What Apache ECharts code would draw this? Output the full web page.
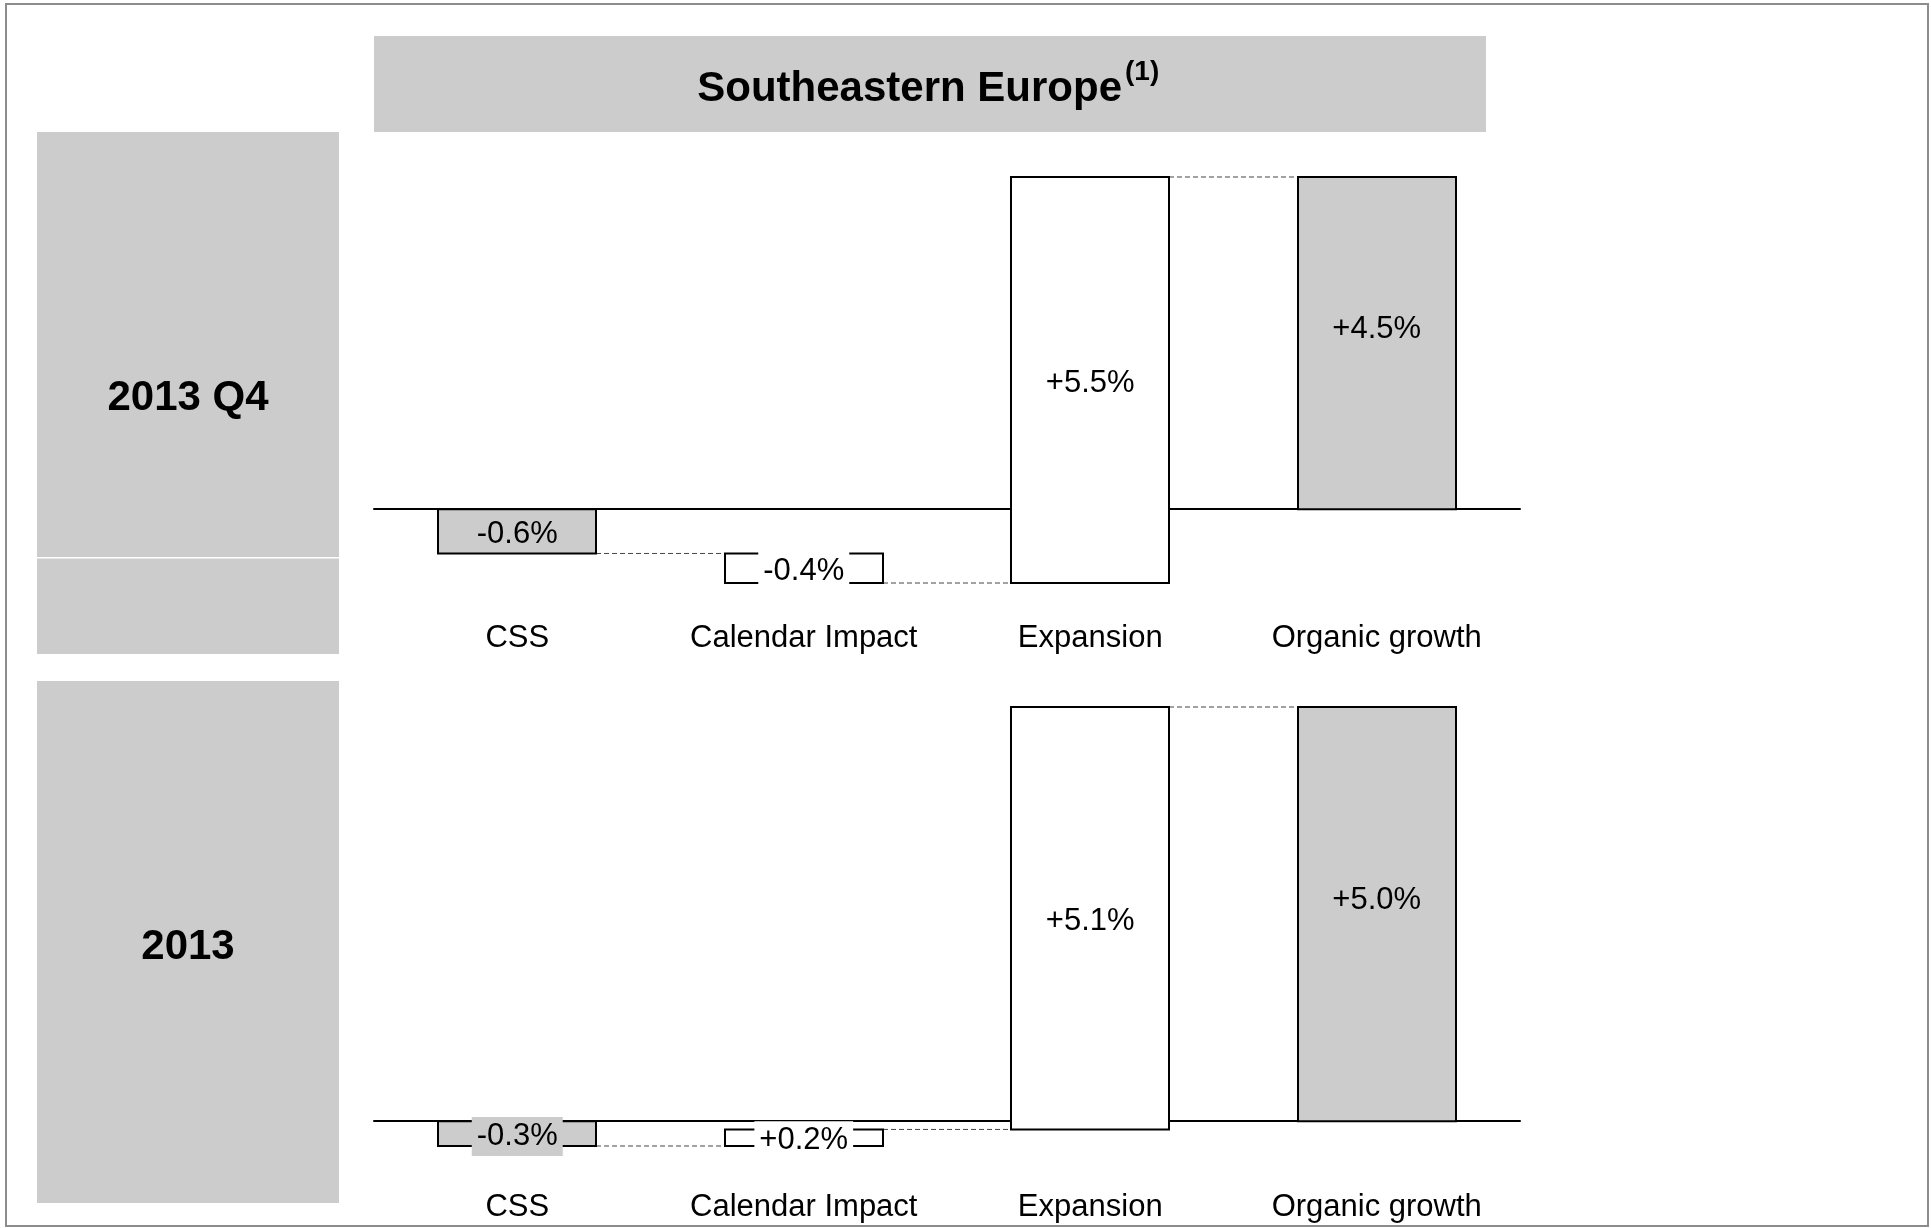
<!DOCTYPE html>
<html>
<head>
<meta charset="utf-8">
<script src="https://cdn.jsdelivr.net/npm/echarts@6/dist/echarts.min.js"></script>
<style>
  html, body { margin: 0; padding: 0; background: #ffffff; }
  #chart { width: 1931px; height: 1228px; }
</style>
</head>
<body>
<div id="chart"></div>
<script>
// Organic growth bridge, Southeastern Europe
const categories = ['CSS', 'Calendar Impact', 'Expansion', 'Organic growth'];
const q4Changes = [-0.6, -0.4, 5.5];   // 2013 Q4: CSS, calendar, expansion
const q4Organic = 4.5;
const fyChanges = [-0.3, 0.2, 5.1];    // full year 2013
const fyOrganic = 5.0;
const periodLabels = ['2013 Q4', '2013'];
const titleText = 'Southeastern Europe';
const titleNote = '(1)';

const FONT = '"Liberation Sans", Arial, Helvetica, sans-serif';
const GREY = '#cccccc';
const barFill = [GREY, '#ffffff', '#ffffff', GREY];
const labelBg = [GREY, '#ffffff', 'transparent', 'transparent'];
const labelShift = [3, 3, 3, -14];

// Each row: [category index, start level, end level, step]
function waterfall(changes, total) {
  const rows = [];
  let level = 0;
  changes.forEach(function (d, i) {
    rows.push([i, level, +(level + d).toFixed(2), d]);
    level = +(level + d).toFixed(2);
  });
  rows.push([changes.length, 0, total, total]);
  return rows;
}

function extent(rows) {
  let lo = 0, hi = 0;
  rows.forEach(function (r) { lo = Math.min(lo, r[1], r[2]); hi = Math.max(hi, r[1], r[2]); });
  return [lo, hi];
}

function fmt(v) { return (v > 0 ? '+' : '') + v.toFixed(1) + '%'; }

function renderStep(params, api) {
  const i = api.value(0), from = api.value(1), to = api.value(2), delta = api.value(3);
  const a = api.coord([i, from]);
  const b = api.coord([i, to]);
  const band = api.size([1, 0])[0];
  const w = Math.round(band * 0.553);
  const left = Math.round(a[0] - w / 2);
  const top = Math.min(a[1], b[1]);
  const h = Math.abs(a[1] - b[1]);
  // a tag on a tall bar stays inside its borders; on a thin bar it overlaps them
  const padV = h > 40 ? 1 : 4;
  const children = [];
  if (i < categories.length - 1) {
    children.push({
      type: 'line',
      shape: { x1: left + w, y1: b[1], x2: Math.round(a[0] + band - w / 2), y2: b[1] },
      style: { stroke: '#444444', lineWidth: 1, lineDash: [5, 3] }
    });
  }
  children.push({
    type: 'rect',
    shape: { x: left, y: top, width: w, height: h },
    style: { fill: barFill[i], stroke: '#000000', lineWidth: 2 }
  });
  children.push({
    type: 'text',
    style: {
      text: fmt(delta),
      x: a[0], y: top + h / 2 + labelShift[i],
      align: 'center', verticalAlign: 'middle',
      textAlign: 'center', textVerticalAlign: 'middle',
      fontSize: 31, fontFamily: FONT, fill: '#000000',
      lineHeight: 31,
      backgroundColor: labelBg[i],
      padding: [padV, 5, padV, 5]
    }
  });
  return { type: 'group', children: children };
}

const q4Rows = waterfall(q4Changes, q4Organic);
const fyRows = waterfall(fyChanges, fyOrganic);
const q4Ext = extent(q4Rows);
const fyExt = extent(fyRows);

function labelAxis(grid, margin) {
  return {
    gridIndex: grid, type: 'category', data: categories, position: 'bottom',
    axisLine: { show: false, onZero: false }, axisTick: { show: false },
    axisLabel: { interval: 0, margin: margin, fontSize: 31, fontFamily: FONT, color: '#000000', verticalAlign: 'middle' }
  };
}
function zeroAxis(grid) {
  return {
    gridIndex: grid, type: 'category', data: categories, position: 'top',
    axisLine: { show: true, onZero: true, lineStyle: { color: '#000000', width: 2 } },
    axisTick: { show: false }, axisLabel: { show: false }
  };
}

function centerText(x, y, text, size, weight, align) {
  return {
    type: 'text', x: x, y: y,
    style: {
      text: text, fontSize: size, fontWeight: weight, fontFamily: FONT, fill: '#000000',
      align: align, verticalAlign: 'middle', textAlign: align, textVerticalAlign: 'middle'
    }
  };
}

const chart = echarts.init(document.getElementById('chart'));
chart.setOption({
  animation: false,
  backgroundColor: '#ffffff',
  grid: [
    { left: 374, top: 177, width: 1146, height: 406 },
    { left: 374, top: 707, width: 1146, height: 439 }
  ],
  xAxis: [labelAxis(0, 55), zeroAxis(0), labelAxis(1, 61), zeroAxis(1)],
  yAxis: [
    { gridIndex: 0, type: 'value', min: q4Ext[0], max: q4Ext[1], show: false },
    { gridIndex: 1, type: 'value', min: fyExt[0], max: fyExt[1], show: false }
  ],
  series: [
    { type: 'custom', xAxisIndex: 0, yAxisIndex: 0, renderItem: renderStep, data: q4Rows, encode: { x: 0, y: [1, 2] } },
    { type: 'custom', xAxisIndex: 2, yAxisIndex: 1, renderItem: renderStep, data: fyRows, encode: { x: 0, y: [1, 2] } }
  ],
  graphic: [
    { type: 'rect', shape: { x: 6, y: 4, width: 1922, height: 1222 }, style: { fill: 'none', stroke: '#8c8c8c', lineWidth: 2 } },
    { type: 'rect', shape: { x: 374, y: 36, width: 1112, height: 96 }, style: { fill: GREY } },
    centerText(1122, 89, titleText, 42, 'bold', 'right'),
    centerText(1125, 72, titleNote, 28, 'bold', 'left'),
    { type: 'rect', shape: { x: 37, y: 132, width: 302, height: 522 }, style: { fill: GREY } },
    { type: 'rect', shape: { x: 37, y: 557, width: 302, height: 1.5 }, style: { fill: '#ffffff' } },
    { type: 'rect', shape: { x: 37, y: 681, width: 302, height: 522 }, style: { fill: GREY } },
    centerText(188, 398, periodLabels[0], 42, 'bold', 'center'),
    centerText(188, 947, periodLabels[1], 42, 'bold', 'center')
  ]
});
</script>
</body>
</html>
